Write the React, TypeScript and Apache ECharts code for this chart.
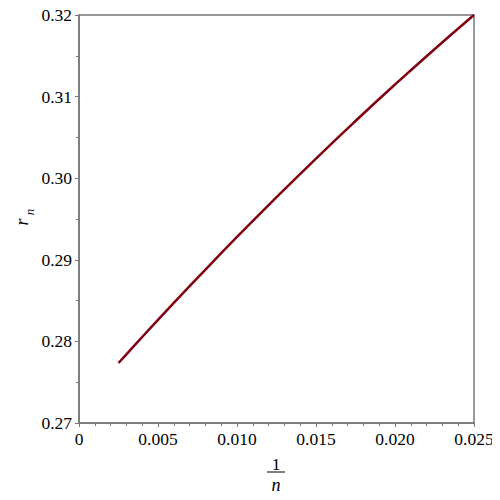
import React, { useEffect, useRef } from "react";
import * as echarts from "echarts";

const invN: number[] = [0.0025, 0.003, 0.004, 0.005, 0.006, 0.0075, 0.01, 0.0125, 0.015, 0.0175, 0.02, 0.0225, 0.025];
const rN: number[] = [0.27735, 0.27842, 0.28054, 0.28264, 0.28471, 0.28778, 0.2928, 0.29767, 0.30241, 0.30701, 0.31148, 0.31581, 0.32];
const xTicks = { min: 0, max: 0.025, interval: 0.005 };
const yTicks = { min: 0.27, max: 0.32, interval: 0.01 };

const FONT = "Liberation Serif";
const AXIS = "#777777";

export default function App() {
  const ref = useRef<HTMLDivElement>(null);
  useEffect(() => {
    if (!ref.current) return;
    const chart = echarts.init(ref.current, undefined, { renderer: "svg" });
    chart.setOption({
      animation: false,
      backgroundColor: "#ffffff",
      textStyle: { fontFamily: FONT },
      grid: {
        left: 79,
        right: 26,
        top: 15,
        bottom: 77,
        show: true,
        borderColor: AXIS,
        borderWidth: 1.5,
        containLabel: false,
      },
      xAxis: {
        type: "value",
        min: xTicks.min,
        max: xTicks.max,
        interval: xTicks.interval,
        axisLine: { show: true, lineStyle: { color: AXIS, width: 1.5 } },
        axisTick: { show: true, length: 4, lineStyle: { color: AXIS } },
        minorTick: { show: true, splitNumber: 5, length: 3, lineStyle: { color: AXIS } },
        splitLine: { show: false },
        axisLabel: {
          color: "#000",
          fontFamily: FONT,
          fontSize: 17.5,
          margin: 7,
          formatter: (v: number) => (v === 0 ? "0" : v.toFixed(3)),
        },
      },
      yAxis: {
        type: "value",
        min: yTicks.min,
        max: yTicks.max,
        interval: yTicks.interval,
        axisLine: { show: true, lineStyle: { color: AXIS, width: 1.5 } },
        axisTick: { show: true, length: 4, lineStyle: { color: AXIS } },
        minorTick: { show: true, splitNumber: 2, length: 3, lineStyle: { color: AXIS } },
        splitLine: { show: false },
        axisLabel: {
          color: "#000",
          fontFamily: FONT,
          fontSize: 17.5,
          margin: 7,
          formatter: (v: number) => v.toFixed(2),
        },
      },
      graphic: [
        {
          type: "text",
          x: 22,
          y: 222,
          rotation: Math.PI / 2,
          style: { text: "r", fontFamily: FONT, fontStyle: "italic", fontSize: 18, fill: "#000", align: "center", verticalAlign: "middle" },
        },
        {
          type: "text",
          x: 29,
          y: 212,
          rotation: Math.PI / 2,
          style: { text: "n", fontFamily: FONT, fontStyle: "italic", fontSize: 13, fill: "#000", align: "center", verticalAlign: "middle" },
        },
        {
          type: "text",
          x: 276,
          y: 464,
          style: { text: "1", fontFamily: FONT, fontSize: 17.5, fill: "#000", align: "center", verticalAlign: "middle" },
        },
        {
          type: "line",
          shape: { x1: 267, y1: 472, x2: 285, y2: 472 },
          style: { stroke: "#000", lineWidth: 1 },
        },
        {
          type: "text",
          x: 276,
          y: 485,
          style: { text: "n", fontFamily: FONT, fontStyle: "italic", fontSize: 18, fill: "#000", align: "center", verticalAlign: "middle" },
        },
      ],
      series: [
        {
          type: "line",
          data: invN.map((x, i) => [x, rN[i]]),
          smooth: true,
          showSymbol: false,
          lineStyle: { color: "#800012", width: 2.5 },
        },
      ],
    });
    return () => chart.dispose();
  }, []);
  return <div ref={ref} style={{ width: 500, height: 500, margin: -8 }} />;
}
